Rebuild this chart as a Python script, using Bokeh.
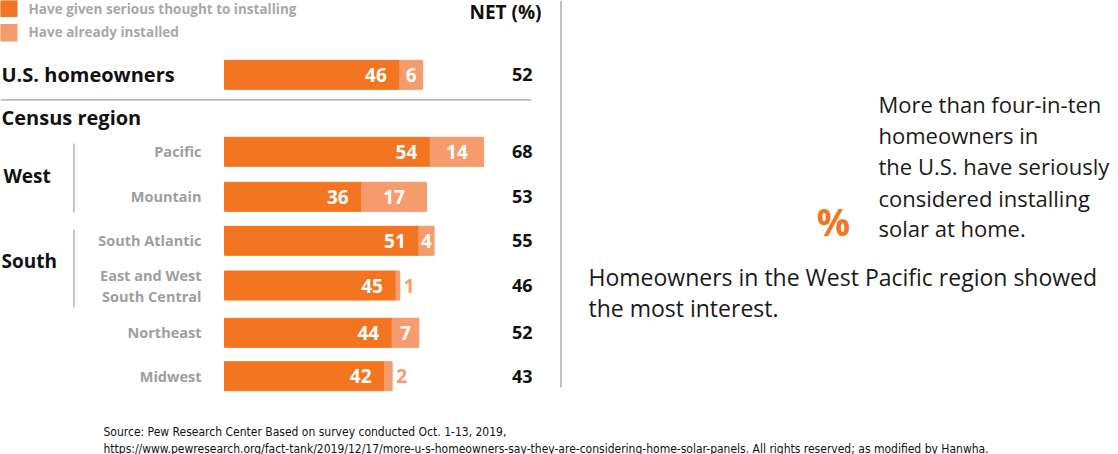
from bokeh.plotting import figure
from bokeh.models import Range1d
from bokeh.embed import file_html
from bokeh.resources import INLINE
from bokeh.core.properties import value

# ---- data ----
categories = ["U.S. homeowners", "Pacific", "Mountain", "South Atlantic",
              "East and West\nSouth Central", "Northeast", "Midwest"]
thought = [46, 54, 36, 51, 45, 44, 42]
installed = [6, 14, 17, 4, 1, 7, 2]
net = [52, 68, 53, 55, 46, 52, 43]
legend_labels = ["Have given serious thought to installing", "Have already installed"]
groups = ["West", "South"]

# ---- layout ----
W, H = 1118, 454
X0 = 224.0          # pixel where 0% sits
PXU = 3.81          # pixels per percent
row_y = [74.3, 151.3, 196.3, 240.3, 285.0, 332.3, 375.7]
BAR_H = 29

DARK = "#F37521"
LIGHT = "#F69C6C"
GRAY = "#9E9E9E"
LINE = "#A0A0A0"
FONT = "Open Sans"
SRC_FONT = "'Liberation Sans Narrow', 'DejaVu Sans Condensed', 'Roboto Condensed', sans-serif"


def px(x):
    return (x - X0) / PXU


p = figure(width=W, height=H, output_backend="svg", toolbar_location=None,
           x_range=Range1d(px(0), px(W)), y_range=Range1d(H, 0),
           min_border=0, outline_line_color=None)
p.axis.visible = False
p.grid.visible = False
p.background_fill_color = "white"
p.border_fill_color = "white"

# bars
left2 = thought
right2 = [a + b for a, b in zip(thought, installed)]
p.hbar(y=row_y, left=0, right=thought, height=BAR_H, color=DARK)
p.hbar(y=row_y, left=left2, right=right2, height=BAR_H, color=LIGHT)

# value labels in dark segment
p.text(x=thought, y=row_y, text=[str(v) for v in thought], x_offset=-13,
       text_align="right", text_baseline="middle", text_color="white",
       text_font=value(FONT), text_font_style="bold", text_font_size="19px")

# installed labels
in_x, in_y, in_t, out_x, out_y, out_t = [], [], [], [], [], []
for a, b, y in zip(thought, installed, row_y):
    if b >= 3:
        in_x.append(a + b / 2); in_y.append(y); in_t.append(str(b))
    else:
        out_x.append(a + b); out_y.append(y); out_t.append(str(b))
p.text(x=in_x, y=in_y, text=in_t, text_align="center", text_baseline="middle",
       text_color="white", text_font=value(FONT), text_font_style="bold",
       text_font_size="19px")
p.text(x=out_x, y=out_y, text=out_t, x_offset=4, text_align="left",
       text_baseline="middle", text_color=LIGHT, text_font=value(FONT),
       text_font_style="bold", text_font_size="19px")

# NET column
p.text(x=[px(532)] * len(net), y=row_y, text=[str(v) for v in net],
       text_align="right", text_baseline="middle", text_color="#111111",
       text_font=value(FONT), text_font_style="bold", text_font_size="18px")
p.text(x=[px(541)], y=[11], text=["NET (%)"], text_align="right",
       text_baseline="middle", text_color="#111111", text_font=value(FONT),
       text_font_style="bold", text_font_size="19px")

# row labels
p.text(x=[px(1)], y=[row_y[0]], text=[categories[0]], text_align="left",
       text_baseline="middle", text_color="#111111", text_font=value(FONT),
       text_font_style="bold", text_font_size="20px")
lx, ly, lt = [], [], []
for c, y in zip(categories[1:], row_y[1:]):
    parts = c.split("\n")
    n = len(parts)
    for i, part in enumerate(parts):
        lx.append(px(201)); ly.append(y + (i - (n - 1) / 2) * 21); lt.append(part)
p.text(x=lx, y=ly, text=lt, text_align="right", text_baseline="middle",
       text_color=GRAY, text_font=value(FONT), text_font_style="bold",
       text_font_size="14.5px")

# section headings
p.text(x=[px(1)], y=[117], text=["Census region"], text_align="left",
       text_baseline="middle", text_color="#111111", text_font=value(FONT),
       text_font_style="bold", text_font_size="20px")
p.text(x=[px(3), px(1)], y=[175, 260], text=groups, text_align="left",
       text_baseline="middle", text_color="#111111", text_font=value(FONT),
       text_font_style="bold", text_font_size="19px")

# rules
p.segment(x0=[px(0)], y0=[99.3], x1=[px(531)], y1=[99.3], line_color=LINE, line_width=1.3)
p.segment(x0=[px(73.5), px(73.5)], y0=[143, 229], x1=[px(73.5), px(73.5)], y1=[212, 307],
          line_color=LINE, line_width=1.2)
p.segment(x0=[px(560.5)], y0=[0], x1=[px(560.5)], y1=[387], line_color=LINE, line_width=1.3)

# legend
p.quad(left=[px(0), px(0)], right=[px(16.5), px(16.5)], top=[0, 24], bottom=[16, 40.5],
       color=[DARK, LIGHT])
p.text(x=[px(28), px(28)], y=[8, 31.5], text=legend_labels, text_align="left",
       text_baseline="middle", text_color="#A8A8A8", text_font=value(FONT),
       text_font_style="bold", text_font_size="13.5px")

# right-side commentary
p.text(x=[px(833)], y=[221], text=["%"], text_align="center", text_baseline="middle",
       text_color=DARK, text_font=value(FONT), text_font_style="bold",
       text_font_size="37px")
note = ["More than four-in-ten", "homeowners in", "the U.S. have seriously",
        "considered installing", "solar at home."]
p.text(x=[px(878)] * len(note), y=[103, 134, 165, 197, 227], text=note,
       text_align="left", text_baseline="middle", text_color="#1A1A1A",
       text_font=value(FONT), text_font_size="22px")
note2 = ["Homeowners in the West Pacific region showed", "the most interest."]
p.text(x=[px(588)] * 2, y=[276, 307], text=note2, text_align="left",
       text_baseline="middle", text_color="#1A1A1A", text_font=value(FONT),
       text_font_size="23px")

# source
src = ["Source: Pew Research Center Based on survey conducted Oct. 1-13, 2019,",
       "https://www.pewresearch.org/fact-tank/2019/12/17/more-u-s-homeowners-say-they-are-considering-home-solar-panels. All rights reserved; as modified by Hanwha."]
p.text(x=[px(103)] * 2, y=[431, 448], text=src, text_align="left",
       text_baseline="middle", text_color="#111111", text_font=value(SRC_FONT),
       text_font_size="12px")

open("out.html", "w").write(file_html(p, INLINE))
